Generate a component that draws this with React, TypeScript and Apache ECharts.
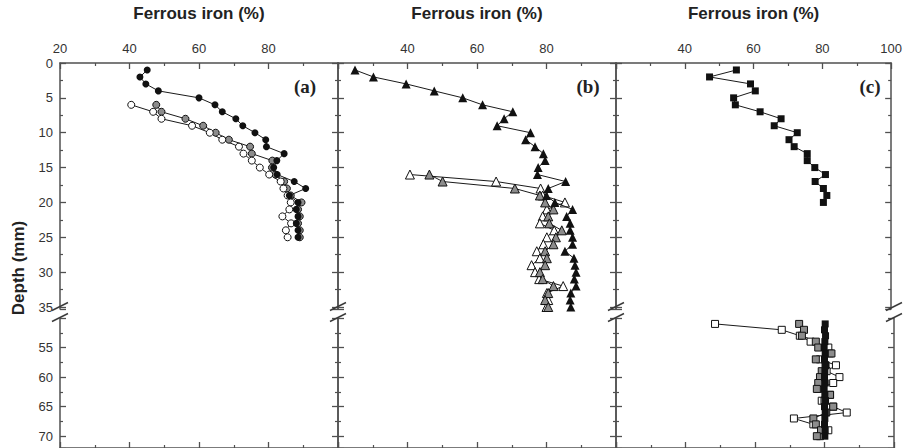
import { useEffect, useRef } from "react";
import * as echarts from "echarts";

// ---- tick labels shown per panel ----
const xLabelsA = [20, 40, 60, 80];
const xLabelsB = [40, 60, 80];
const xLabelsC = [40, 60, 80, 100];
const yLabelsUpper = [0, 5, 10, 15, 20, 25, 30, 35];
const yLabelsLower = [55, 60, 65, 70];

// ---- panel (a) ----
const depthA1 = [1, 2, 3, 4, 5, 6, 7, 8, 9, 10, 11, 12, 13, 14, 15, 16, 17, 18, 19, 20, 21, 22, 23, 24, 25];
const ironA1 = [45.1, 43, 44.7, 48.3, 60, 64.6, 66.7, 70.6, 72.6, 76.1, 79.2, 79.4, 84.5, 82.4, 81.5, 82.5, 87.4, 90.7, 86, 88.5, 88, 88.5, 88, 88.5, 88.5];
const depthA2 = [6, 7, 8, 9, 10, 11, 12, 13, 14, 15, 16, 17, 18, 19, 20, 21, 22, 23, 24, 25];
const ironA2 = [47.7, 49.2, 56.1, 61.2, 64.8, 68.6, 74.7, 75.2, 81.1, 81, 82, 84.5, 85.3, 86.4, 89.5, 88.5, 89, 88.5, 89, 89];
const depthA3 = [6, 7, 8, 9, 10, 11, 12, 13, 14, 15, 16, 17, 18, 19, 20, 21, 22, 23, 24, 25];
const ironA3 = [40.5, 46.8, 49.2, 58, 63.1, 66.7, 71.5, 72.8, 75.2, 77.5, 80.2, 83.5, 84.3, 85.5, 86.4, 86, 84, 86.5, 85, 85.5];

// ---- panel (b) ----
const depthB1 = [1, 2, 3, 4, 5, 6, 7, 8, 9, 10, 11, 12, 13, 14, 15, 16, 17, 18, 19, 20, 21, 22, 23, 24, 25, 26, 27, 28, 29, 30, 31, 32, 33, 34, 35];
const ironB1 = [24.9, 30.2, 39.6, 47.7, 55.9, 61.6, 70.3, 67.8, 65.8, 75.4, 74, 76.7, 79.1, 79.6, 77.6, 77.4, 85.5, 80.5, 80, 82.4, 87.5, 85.8, 86.8, 86.8, 87.5, 87.5, 85.3, 87.9, 88.2, 88.5, 88, 88.5, 87, 86.8, 87];
const depthB2 = [16, 17, 18, 19, 20, 21, 22, 23, 24, 25, 26, 27, 28, 29, 30, 31, 32, 33, 34, 35];
const ironB2 = [46.3, 50.1, 70.9, 78.1, 79.6, 82, 80.5, 80.8, 84.4, 82.7, 82, 79.6, 80.1, 79.6, 78.1, 78.9, 82, 80.5, 79.6, 80.5];
const depthB3 = [16, 17, 18, 19, 20, 21, 22, 23, 24, 25, 26, 27, 28, 29, 30, 31, 32, 33, 34, 35];
const ironB3 = [40.7, 65.5, 78.3, 78.9, 85.3, 80.1, 78.9, 78.1, 82.2, 80.1, 79.1, 77.2, 78.1, 75.7, 76.7, 77.9, 84.8, 80.1, 80.5, 80];

// ---- panel (c) ----
const depthC1 = [1, 2, 3, 4, 5, 6, 7, 8, 9, 10, 11, 12, 13, 14, 15, 16, 17, 18, 19, 20];
const ironC1 = [55, 47.2, 59.1, 60.5, 54.2, 54.7, 61.9, 68, 66, 72.7, 70.3, 71.8, 75.6, 75.6, 77.8, 80.9, 77.9, 80.3, 81.3, 80.3];
const depthC2 = [51, 52, 53, 54, 55, 56, 57, 58, 59, 60, 61, 62, 63, 64, 65, 66, 67, 68, 69, 70];
const ironC2 = [72.7, 74.1, 73.5, 77.5, 78.2, 82, 77.5, 80.3, 79.2, 78.7, 78.2, 77.8, 81.6, 80, 82.5, 80.5, 76.8, 77.5, 79, 77.8];
const depthC3 = [51, 52, 53, 54, 55, 56, 57, 58, 59, 60, 61, 62, 63, 64, 65, 66, 67, 68, 69, 70];
const ironC3 = [48.5, 67.7, 72.9, 76, 81.1, 81.6, 78.7, 83.3, 80.6, 84.3, 82.5, 78.2, 81.6, 79.2, 82.5, 86.4, 71.2, 76.8, 81.1, 78.7];
const depthC4 = [51, 52, 53, 54, 55, 56, 57, 58, 59, 60, 61, 62, 63, 64, 65, 66, 67, 68, 69, 70];
const ironC4 = [80.2, 80, 80.3, 80.1, 79.9, 80.2, 80, 80.3, 80.1, 80, 80.2, 79.9, 80.1, 80.3, 80, 80.2, 80.1, 80, 80.2, 80.1];

const SANS = "Liberation Sans, Arial, Helvetica, sans-serif";
const SERIF = "Liberation Serif, Times New Roman, serif";
const AXIS_COLOR = "#505050";
const LABEL_COLOR = "#333";

const panelLeft = [60, 338, 616];
const panelWidth = 278;
const upperTop = 62;
const upperHeight = 247.1; // 0..35.3 mm
const lowerTop = 318;
const lowerHeight = 130.5; // 50..72 mm

type Marker = "black" | "grey" | "open";
const fillOf = (m: Marker) => (m === "black" ? "#111" : m === "grey" ? "#8c8c8c" : "#fff");

function series(depths: number[], iron: number[], grid: number, symbol: string, marker: Marker, size: number) {
  return {
    type: "line",
    xAxisIndex: grid,
    yAxisIndex: grid * 2,
    data: depths.map((d, i) => [iron[i], d]),
    symbol,
    symbolSize: size,
    showAllSymbol: true,
    itemStyle: { color: fillOf(marker), borderColor: "#111", borderWidth: marker === "black" ? 0 : 1, opacity: 1 },
    lineStyle: { color: "#1a1a1a", width: 1 },
    emphasis: { disabled: true },
    z: marker === "black" ? 4 : 3,
  };
}

export default function App() {
  const ref = useRef<HTMLDivElement>(null);
  useEffect(() => {
    if (!ref.current) return;
    const chart = echarts.init(ref.current, undefined, { renderer: "svg" });

    const grids: any[] = [];
    const xAxes: any[] = [];
    const yAxes: any[] = [];
    const xLabelSets = [xLabelsA, xLabelsB, xLabelsC];

    for (let seg = 0; seg < 2; seg++) {
      for (let p = 0; p < 3; p++) {
        const g = seg * 3 + p;
        grids.push({
          left: panelLeft[p],
          width: panelWidth,
          top: seg === 0 ? upperTop : lowerTop,
          height: seg === 0 ? upperHeight : lowerHeight,
          containLabel: false,
        });
        const labels = xLabelSets[p];
        xAxes.push({
          type: "value",
          gridIndex: g,
          position: seg === 0 ? "top" : "bottom",
          min: 20,
          max: 100,
          interval: 20,
          name: seg === 0 ? "Ferrous iron (%)" : "",
          nameLocation: "middle",
          nameGap: 41,
          nameTextStyle: { fontFamily: SANS, fontSize: 17, fontWeight: "bold", color: "#222" },
          axisLine: { show: true, onZero: false, lineStyle: { color: AXIS_COLOR, width: 1.5 } },
          axisTick: { show: true, inside: true, length: 6, lineStyle: { color: AXIS_COLOR, width: 1.3 } },
          minorTick: { show: true, splitNumber: 2, length: 3, lineStyle: { color: AXIS_COLOR, width: 1.2 } },
          axisLabel: {
            show: seg === 0,
            margin: 8,
            fontFamily: SANS,
            fontSize: 13,
            color: LABEL_COLOR,
            formatter: (v: number) => (labels.includes(v) ? String(v) : ""),
          },
          splitLine: { show: false },
        });
        const yLabels = seg === 0 ? yLabelsUpper : yLabelsLower;
        for (let side = 0; side < 2; side++) {
          yAxes.push({
            type: "value",
            gridIndex: g,
            position: side === 0 ? "left" : "right",
            inverse: true,
            min: seg === 0 ? 0 : 50,
            max: seg === 0 ? 35.3 : 72,
            interval: 5,
            axisLine: { show: true, onZero: false, lineStyle: { color: AXIS_COLOR, width: 1.5 } },
            axisTick: { show: true, inside: true, length: 6, lineStyle: { color: AXIS_COLOR, width: 1.3 } },
            minorTick: { show: true, splitNumber: 2, length: 3, lineStyle: { color: AXIS_COLOR, width: 1.2 } },
            axisLabel: {
              show: p === 0 && side === 0,
              margin: 7,
              fontFamily: SANS,
              fontSize: 13,
              color: LABEL_COLOR,
              formatter: (v: number) => (yLabels.includes(v) ? String(v) : ""),
            },
            splitLine: { show: false },
          });
        }
      }
    }

    const breakX = [60, 338, 616, 894];
    const breakMarks: any[] = [];
    breakX.forEach((x) => {
      [306.5, 317.5].forEach((y) => {
        breakMarks.push({
          type: "line",
          shape: { x1: x - 8, y1: y + 4, x2: x + 8, y2: y - 4 },
          style: { stroke: "#3a3a3a", lineWidth: 1.5 },
          z: 10,
        });
      });
    });

    const option: any = {
      animation: false,
      backgroundColor: "#fff",
      grid: grids,
      xAxis: xAxes,
      yAxis: yAxes,
      series: [
        series(depthA1, ironA1, 0, "circle", "black", 7),
        series(depthA2, ironA2, 0, "circle", "grey", 7),
        series(depthA3, ironA3, 0, "circle", "open", 7),
        series(depthB3, ironB3, 1, "triangle", "open", 9),
        series(depthB2, ironB2, 1, "triangle", "grey", 9),
        series(depthB1, ironB1, 1, "triangle", "black", 9),
        series(depthC1, ironC1, 2, "rect", "black", 7),
        series(depthC3, ironC3, 5, "rect", "open", 7),
        series(depthC2, ironC2, 5, "rect", "grey", 7),
        series(depthC4, ironC4, 5, "rect", "black", 7),
      ],
      graphic: [
        ...breakMarks,
        {
          type: "text",
          x: 18,
          y: 268,
          rotation: Math.PI / 2,
          style: {
            text: "Depth (mm)",
            font: `bold 17px ${SANS}`,
            fill: "#222",
            textAlign: "center",
            textVerticalAlign: "middle",
          },
        },
        { type: "text", x: 305, y: 86, style: { text: "(a)", font: `bold 19px ${SERIF}`, fill: "#222", textAlign: "center", textVerticalAlign: "middle" } },
        { type: "text", x: 588, y: 86, style: { text: "(b)", font: `bold 19px ${SERIF}`, fill: "#222", textAlign: "center", textVerticalAlign: "middle" } },
        { type: "text", x: 870, y: 86, style: { text: "(c)", font: `bold 19px ${SERIF}`, fill: "#222", textAlign: "center", textVerticalAlign: "middle" } },
      ],
    };
    chart.setOption(option);
    return () => chart.dispose();
  }, []);
  return <div ref={ref} style={{ position: "fixed", left: 0, top: 0, width: 905, height: 448 }} />;
}
